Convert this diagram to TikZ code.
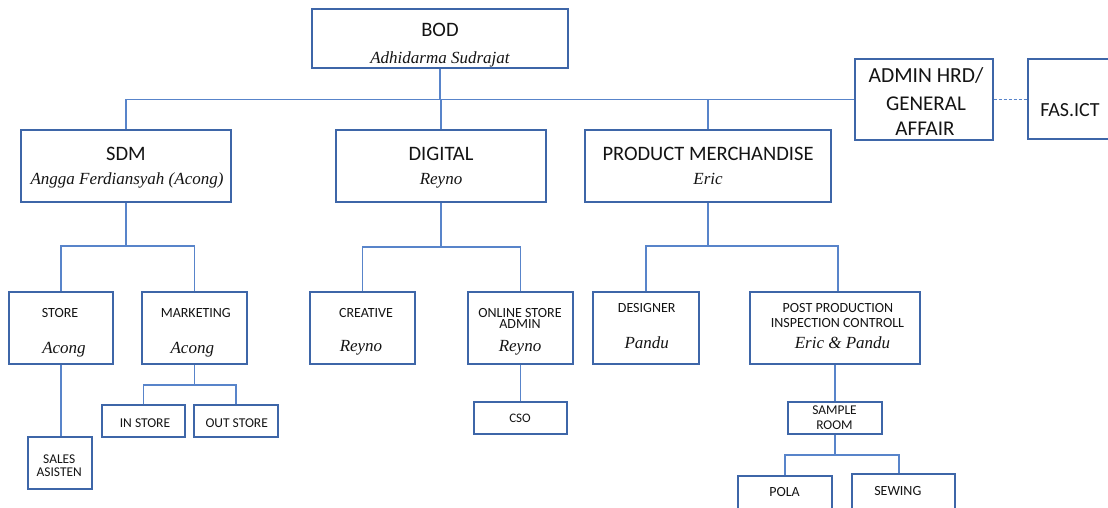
\documentclass[tikz,border=0pt]{standalone}
\usepackage{fontspec}
\setmainfont{Carlito}
\newfontfamily\serifit{Liberation Serif}
\definecolor{linec}{RGB}{88,132,202}
\definecolor{borderc}{RGB}{62,102,168}
\definecolor{txt}{RGB}{20,20,20}
\tikzset{
  box/.style={draw=borderc, line width=1.2pt, inner sep=0pt, rectangle},
  conn/.style={draw=linec, line width=1.3pt},
  big/.style={anchor=base, inner sep=0pt, text=txt, font=\fontsize{20.5}{22}\selectfont},
  small/.style={anchor=base, inner sep=0pt, text=txt, font=\fontsize{14}{15}\selectfont},
  ital/.style={anchor=base, inner sep=0pt, text=txt, font=\serifit\itshape\fontsize{17}{19}\selectfont},
}
\begin{document}
\begin{tikzpicture}[x=1pt,y=-1pt]
\useasboundingbox (0,0) rectangle (1108,507);
\clip (0,0) rectangle (1108,507);
\fill[white] (0,0) rectangle (1108,507);
% boxes
\node[box, minimum width=256pt, minimum height=59pt] (bod) at (440,38.5) {};
\node[box, minimum width=138pt, minimum height=81pt] (admin) at (924,99.5) {};
\node[box, minimum width=112pt, minimum height=80pt] (fas) at (1084,99) {};
\node[box, minimum width=210pt, minimum height=72pt] (sdm) at (126,166) {};
\node[box, minimum width=210pt, minimum height=72pt] (dig) at (441,166) {};
\node[box, minimum width=246pt, minimum height=72pt] (pm) at (708,166) {};
\node[box, minimum width=104pt, minimum height=72pt] (store) at (61,328) {};
\node[box, minimum width=105pt, minimum height=72pt] (mkt) at (194.5,328) {};
\node[box, minimum width=64pt, minimum height=52pt] (sales) at (60,463) {};
\node[box, minimum width=83pt, minimum height=32pt] (instore) at (143.5,421) {};
\node[box, minimum width=84pt, minimum height=32pt] (outstore) at (236,421) {};
\node[box, minimum width=105pt, minimum height=72pt] (creative) at (362.5,328) {};
\node[box, minimum width=105pt, minimum height=72pt] (online) at (520.5,328) {};
\node[box, minimum width=93pt, minimum height=32pt] (cso) at (520.5,418) {};
\node[box, minimum width=106pt, minimum height=72pt] (designer) at (646,328) {};
\node[box, minimum width=170pt, minimum height=72pt] (post) at (835,328) {};
\node[box, minimum width=94pt, minimum height=32pt] (sample) at (835,418) {};
\node[box, minimum width=94pt, minimum height=54pt] (pola) at (785,503) {};
\node[box, minimum width=103pt, minimum height=56pt] (sewing) at (903.5,502) {};
% connectors, top level
\draw[conn] (sdm.north) |- (admin.west);
\draw[conn] (bod.south) -- (bod.south |- admin.west);
\draw[conn] (dig.north) -- (dig.north |- admin.west);
\draw[conn] (pm.north) -- (pm.north |- admin.west);
\draw[conn, dash pattern=on 3pt off 2pt, line width=1.2pt] (admin.east) -- (admin.east -| fas.west);
% SDM
\coordinate (sdmbus) at (126,246);
\draw[conn] (sdm.south) -- (sdmbus);
\draw[conn] (store.north) -- (store.north |- sdmbus) -| (mkt.north);
\draw[conn] (store.south) -- (store.south |- sales.north);
\coordinate (mktbus) at (194.5,385);
\draw[conn] (mkt.south) -- (mktbus);
\draw[conn] (instore.north) -- (instore.north |- mktbus) -| (outstore.north);
% DIGITAL
\coordinate (digbus) at (441,247);
\draw[conn] (dig.south) -- (digbus);
\draw[conn] (creative.north) -- (creative.north |- digbus) -| (online.north);
\draw[conn] (online.south) -- (online.south |- cso.north);
% PM
\coordinate (pmbus) at (708,246);
\draw[conn] (pm.south) -- (pmbus);
\draw[conn] (designer.north) -- (designer.north |- pmbus) -| ([xshift=3pt]post.north);
\draw[conn] (post.south) -- (sample.north);
\coordinate (sbus) at (835,455);
\draw[conn] (sample.south) -- (sbus);
\draw[conn] (pola.north) -- (pola.north |- sbus) -| ([xshift=-4.5pt]sewing.north);
% texts
\node[big] (tbod) at (440,36) {BOD};
\node[ital] (ibod) at (440,63) {Adhidarma Sudrajat};
\node[big] (tsdm) at (126,160) {SDM};
\node[ital] (isdm) at (127,184) {Angga Ferdiansyah (Acong)};
\node[big] (tdig) at (441,160) {DIGITAL};
\node[ital] (idig) at (441,184) {Reyno};
\node[big] (tpm) at (708,160) {PRODUCT MERCHANDISE};
\node[ital] (ipm) at (708,184) {Eric};
\node[big, font=\fontsize{21.5}{22}\selectfont] (tadm1) at (926,82.3) {ADMIN HRD/};
\node[big, font=\fontsize{21}{22}\selectfont] (tadm2) at (926,110.7) {GENERAL};
\node[big, font=\fontsize{21}{22}\selectfont] (tadm3) at (925,135.7) {AFFAIR};
\node[big, font=\fontsize{20}{22}\selectfont] (tfas) at (1070,116.7) {FAS.ICT};
\node[small] (tstore) at (60,317.7) {STORE};
\node[ital] (istore) at (64,353.3) {Acong};
\node[small] (tmkt) at (195.8,317.7) {MARKETING};
\node[ital] (imkt) at (192.3,353.3) {Acong};
\node[small, font=\fontsize{13.5}{15}\selectfont] (tin) at (145,427) {IN STORE};
\node[small, font=\fontsize{13.5}{15}\selectfont] (tout) at (236.7,427) {OUT STORE};
\node[small, font=\fontsize{13.4}{15}\selectfont] (tsal1) at (59.2,463.3) {SALES};
\node[small, font=\fontsize{13.4}{15}\selectfont] (tsal2) at (59.2,476) {ASISTEN};
\node[small] (tcre) at (366,317.7) {CREATIVE};
\node[ital] (icre) at (361,351.7) {Reyno};
\node[small, align=center, font=\fontsize{14}{11.2}\selectfont] (tonl) at (520,328.6) {ONLINE STORE\\ADMIN};
\node[ital] (ionl) at (520,351.7) {Reyno};
\node[small, font=\fontsize{13}{15}\selectfont] (tcso) at (520,422.3) {CSO};
\node[small] (tdes) at (646.7,312.3) {DESIGNER};
\node[ital] (ides) at (646.7,348.3) {Pandu};
\node[small] (tpost1) at (838,312.3) {POST PRODUCTION};
\node[small] (tpost2) at (837.5,327) {INSPECTION CONTROLL};
\node[ital] (ipost) at (842.5,348.3) {Eric \& Pandu};
\node[small, font=\fontsize{13.4}{15}\selectfont] (tsam1) at (834.5,414.7) {SAMPLE};
\node[small, font=\fontsize{13.4}{15}\selectfont] (tsam2) at (834.5,429.7) {ROOM};
\node[small] (tpola) at (784.5,496.7) {POLA};
\node[small] (tsew) at (897.8,495) {SEWING};
\end{tikzpicture}
\end{document}
